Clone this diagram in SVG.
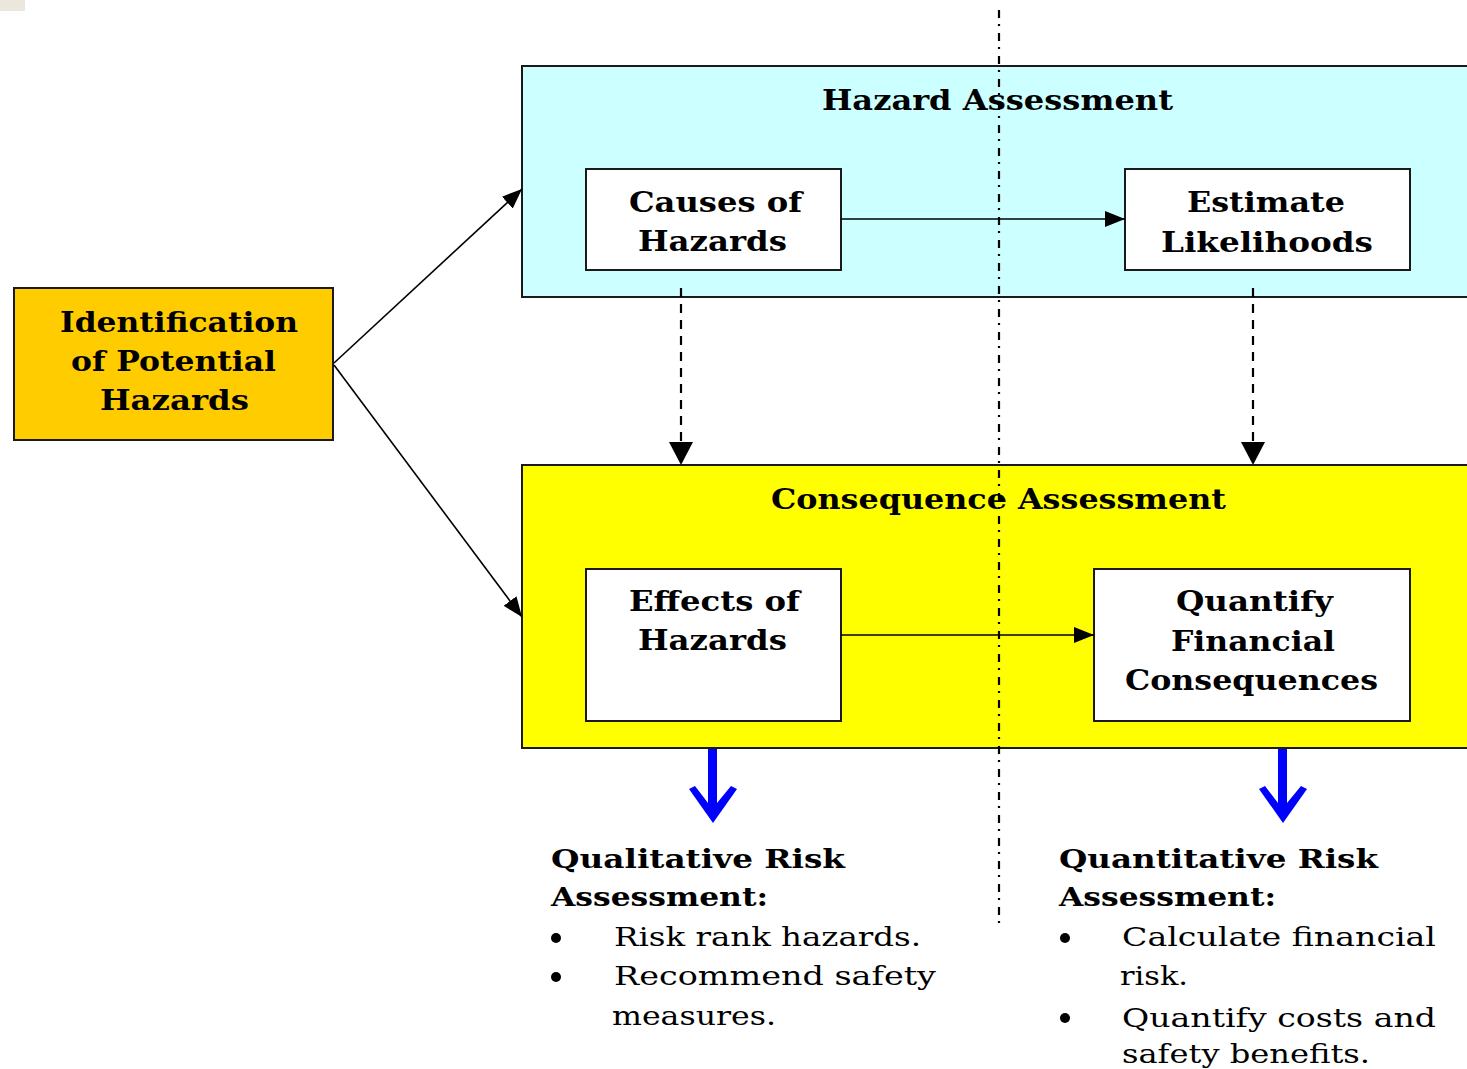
<svg xmlns="http://www.w3.org/2000/svg" width="1467" height="1069" viewBox="0 0 1467 1069">
<style>
.box{stroke:#1a1a1a;stroke-width:2}
.t{font-family:"DejaVu Serif","Liberation Serif",serif;font-weight:bold;font-size:28px;fill:#000}
.b{font-family:"DejaVu Serif","Liberation Serif",serif;font-weight:bold;font-size:26px;fill:#000}
.r{font-family:"DejaVu Serif","Liberation Serif",serif;font-size:26px;fill:#000}
.ln{stroke:#000;stroke-width:1.6;fill:none}
.dash{stroke:#000;stroke-width:2.2;fill:none;stroke-dasharray:9 7}
.dd{stroke:#000;stroke-width:2.2;fill:none;stroke-dasharray:8 6 2 7}
</style>
<defs>
<marker id="ah" markerUnits="userSpaceOnUse" markerWidth="20" markerHeight="16" refX="20" refY="8" orient="auto">
<path d="M0,0 L20,8 L0,16 Z" fill="#000"/>
</marker>
</defs>
<rect width="1467" height="1069" fill="#fff"/>
<rect x="0" y="0" width="25" height="11" fill="#ECE7DC"/>

<g id="hazard-assessment">
<rect class="box" x="522" y="66" width="950" height="231" fill="#CCFFFF"/>
<text class="t" x="822" y="110" textLength="351" lengthAdjust="spacingAndGlyphs">Hazard Assessment</text>
</g>
<g id="consequence-assessment">
<rect class="box" x="522" y="465" width="950" height="283" fill="#FFFF00"/>
<text class="t" x="771" y="509" textLength="455" lengthAdjust="spacingAndGlyphs">Consequence Assessment</text>
</g>

<g id="identification">
<rect class="box" x="14" y="288" width="319" height="152" fill="#FFCC00"/>
<text class="t" x="60" y="332" textLength="238" lengthAdjust="spacingAndGlyphs">Identification</text>
<text class="t" x="71" y="371" textLength="205" lengthAdjust="spacingAndGlyphs">of Potential</text>
<text class="t" x="100" y="410" textLength="149" lengthAdjust="spacingAndGlyphs">Hazards</text>
</g>

<g id="causes">
<rect class="box" x="586" y="169" width="255" height="101" fill="#fff"/>
<text class="t" x="629" y="212" textLength="173" lengthAdjust="spacingAndGlyphs">Causes of</text>
<text class="t" x="638" y="251" textLength="149" lengthAdjust="spacingAndGlyphs">Hazards</text>
</g>
<g id="estimate">
<rect class="box" x="1125" y="169" width="285" height="101" fill="#fff"/>
<text class="t" x="1187" y="212" textLength="158" lengthAdjust="spacingAndGlyphs">Estimate</text>
<text class="t" x="1161" y="252" textLength="212" lengthAdjust="spacingAndGlyphs">Likelihoods</text>
</g>
<g id="effects">
<rect class="box" x="586" y="569" width="255" height="152" fill="#fff"/>
<text class="t" x="629" y="611" textLength="171" lengthAdjust="spacingAndGlyphs">Effects of</text>
<text class="t" x="638" y="650" textLength="149" lengthAdjust="spacingAndGlyphs">Hazards</text>
</g>
<g id="quantify">
<rect class="box" x="1094" y="569" width="316" height="152" fill="#fff"/>
<text class="t" x="1176" y="611" textLength="157" lengthAdjust="spacingAndGlyphs">Quantify</text>
<text class="t" x="1171" y="651" textLength="164" lengthAdjust="spacingAndGlyphs">Financial</text>
<text class="t" x="1125" y="690" textLength="253" lengthAdjust="spacingAndGlyphs">Consequences</text>
</g>

<g id="qualitative">
<text class="b" x="551" y="868" textLength="294" lengthAdjust="spacingAndGlyphs">Qualitative Risk</text>
<text class="b" x="551" y="906" textLength="217" lengthAdjust="spacingAndGlyphs">Assessment:</text>
<circle cx="556" cy="938" r="5" fill="#000"/>
<text class="r" x="614" y="946" textLength="307" lengthAdjust="spacingAndGlyphs">Risk rank hazards.</text>
<circle cx="556" cy="977" r="5" fill="#000"/>
<text class="r" x="614" y="985" textLength="322" lengthAdjust="spacingAndGlyphs">Recommend safety</text>
<text class="r" x="612" y="1025" textLength="164" lengthAdjust="spacingAndGlyphs">measures.</text>
</g>
<g id="quantitative">
<text class="b" x="1059" y="868" textLength="319" lengthAdjust="spacingAndGlyphs">Quantitative Risk</text>
<text class="b" x="1059" y="906" textLength="217" lengthAdjust="spacingAndGlyphs">Assessment:</text>
<circle cx="1065" cy="938" r="5" fill="#000"/>
<text class="r" x="1122" y="946" textLength="314" lengthAdjust="spacingAndGlyphs">Calculate financial</text>
<text class="r" x="1120" y="985" textLength="68" lengthAdjust="spacingAndGlyphs">risk.</text>
<circle cx="1065" cy="1018" r="5" fill="#000"/>
<text class="r" x="1122" y="1027" textLength="314" lengthAdjust="spacingAndGlyphs">Quantify costs and</text>
<text class="r" x="1122" y="1063" textLength="248" lengthAdjust="spacingAndGlyphs">safety benefits.</text>
</g>

<g id="connectors">
<line class="ln" x1="334" y1="363" x2="522" y2="189" marker-end="url(#ah)"/>
<line class="ln" x1="334" y1="365" x2="522" y2="617" marker-end="url(#ah)"/>
<line class="ln" x1="841" y1="219" x2="1125" y2="219" marker-end="url(#ah)"/>
<line class="ln" x1="841" y1="635" x2="1094" y2="635" marker-end="url(#ah)"/>
<line class="dash" x1="681" y1="288" x2="681" y2="445"/>
<path d="M669,442 L693,442 L681,465 Z" fill="#000"/>
<line class="dash" x1="1253" y1="288" x2="1253" y2="445"/>
<path d="M1241,442 L1265,442 L1253,465 Z" fill="#000"/>
<path d="M708,749 L717,749 L717,803 L731,786 L737,789 L713,823 L689,789 L695,786 L708,803 Z" fill="#0000FF"/>
<path d="M1278,749 L1287,749 L1287,803 L1301,786 L1307,789 L1283,823 L1259,789 L1265,786 L1278,803 Z" fill="#0000FF"/>
<line class="dd" x1="999" y1="10" x2="999" y2="926"/>
</g>
</svg>
